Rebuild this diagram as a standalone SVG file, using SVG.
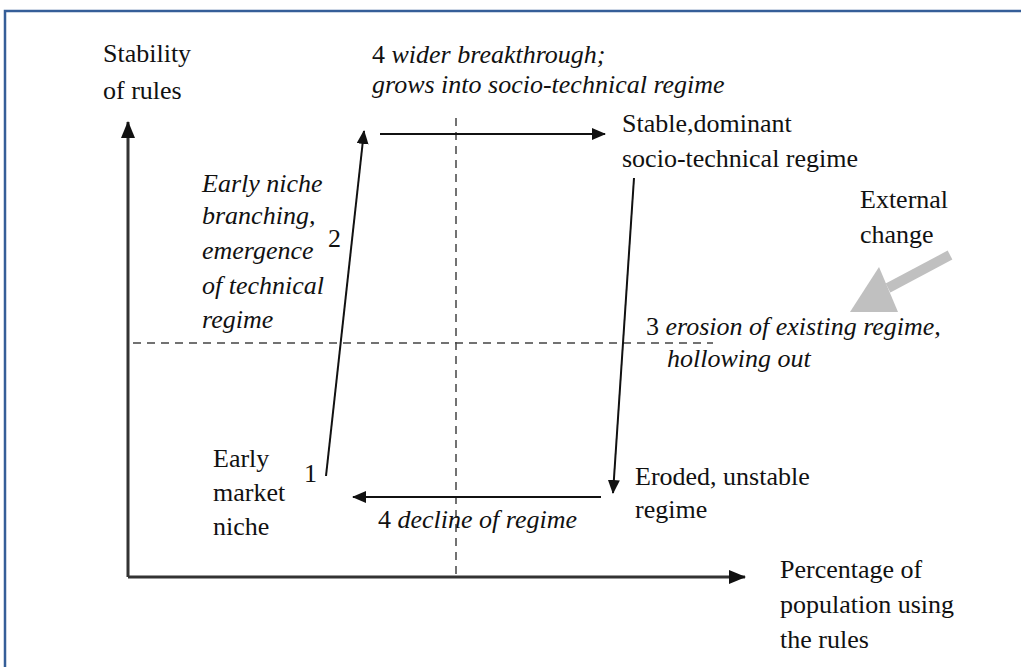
<svg xmlns="http://www.w3.org/2000/svg" width="1021" height="667" viewBox="0 0 1021 667">
<style>
.t{font-family:"Liberation Serif","Times New Roman",serif;font-size:26px;fill:#111}
.i{font-style:italic}
.n{font-style:normal}
.ax{stroke:#333;stroke-width:3;fill:none}
.ar{stroke:#111;stroke-width:2;fill:none}
.ds{stroke:#444;stroke-width:1.5;stroke-dasharray:8,6;fill:none}
</style>
<defs>
<marker id="h" markerWidth="14" markerHeight="12" refX="13" refY="6" orient="auto" markerUnits="userSpaceOnUse">
<path d="M0,0 L14,6 L0,12 Z" fill="#111"/>
</marker>
<marker id="ha" markerWidth="17" markerHeight="14" refX="16" refY="7" orient="auto" markerUnits="userSpaceOnUse">
<path d="M0,0 L17,7 L0,14 Z" fill="#111"/>
</marker>
</defs>
<rect width="1021" height="667" fill="#fff"/>
<path d="M5,667 V11 H1021" stroke="#355e98" stroke-width="2.5" fill="none"/>
<g id="axes">
<path class="ax" d="M128,577 V122" marker-end="url(#ha)"/>
<path class="ax" d="M128,577 H745" marker-end="url(#ha)"/>
<path class="ds" d="M456,118 V578"/>
<path class="ds" d="M133,343 H713"/>
</g>
<g id="connectors">
<path class="ar" d="M326,476 L364,131" marker-end="url(#h)"/>
<path class="ar" d="M380,134 H605" marker-end="url(#h)"/>
<path class="ar" d="M634,178 L613,493" marker-end="url(#h)"/>
<path class="ar" d="M601,497 H353" marker-end="url(#h)"/>
<g id="external-arrow" fill="#c0c0c0">
<path d="M950,255 L888,288" stroke="#c0c0c0" stroke-width="10"/>
<polygon points="879,267 850,312 898,312"/>
</g>
</g>
<g id="y-axis-label"><text class="t" x="103" y="62">Stability</text><text class="t" x="103" y="99">of rules</text></g>
<g id="wider-breakthrough"><text class="t" x="372" y="63">4 <tspan class="i">wider breakthrough;</tspan></text><text class="t i" x="372" y="93">grows into socio-technical regime</text></g>
<g id="stable-regime"><text class="t" x="622" y="132">Stable,dominant</text><text class="t" x="622" y="167">socio-technical regime</text></g>
<g id="early-branching">
<text class="t i" x="202" y="192">Early niche</text>
<text class="t i" x="202" y="224">branching,</text>
<text class="t i" x="202" y="259">emergence</text>
<text class="t i" x="202" y="294">of technical</text>
<text class="t i" x="202" y="328">regime</text>
<text class="t" x="328" y="247">2</text>
</g>
<g id="external-change"><text class="t" x="860" y="208">External</text><text class="t" x="860" y="243">change</text></g>
<g id="erosion"><text class="t" x="646" y="335">3 <tspan class="i">erosion of existing regime,</tspan></text><text class="t i" x="667" y="367">hollowing out</text></g>
<g id="early-market-niche"><text class="t" x="213" y="467">Early</text><text class="t" x="213" y="501">market</text><text class="t" x="213" y="535">niche</text><text class="t" x="304" y="482">1</text></g>
<g id="decline"><text class="t" x="378" y="528">4 <tspan class="i">decline of regime</tspan></text></g>
<g id="eroded-regime"><text class="t" x="635" y="485">Eroded, unstable</text><text class="t" x="635" y="518">regime</text></g>
<g id="x-axis-label"><text class="t" x="780" y="578">Percentage of</text><text class="t" x="780" y="613">population using</text><text class="t" x="780" y="648">the rules</text></g>
</svg>
